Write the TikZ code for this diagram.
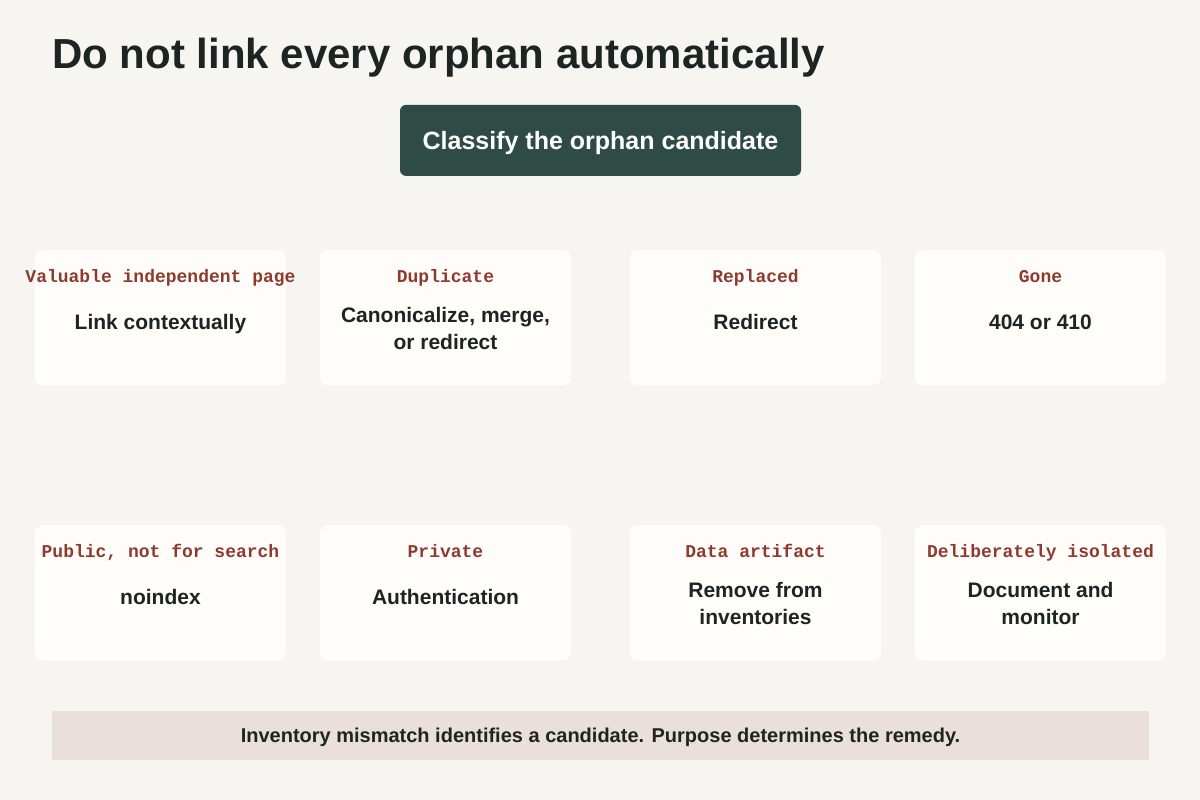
\documentclass[tikz,border=0pt]{standalone}
\usepackage{fontspec}
\setmainfont{Liberation Sans}
\newfontfamily\tagfont{Liberation Mono}
\usetikzlibrary{positioning}

\definecolor{bgcol}{HTML}{F6F5F2}
\definecolor{cardcol}{HTML}{FFFDF9}
\definecolor{headcol}{HTML}{2F4B45}
\definecolor{tagcol}{HTML}{8E3A2E}
\definecolor{inkcol}{HTML}{1C2522}
\definecolor{notecol}{HTML}{EADFDA}

\begin{document}
\begin{tikzpicture}[x=1pt, y=1pt,
  card/.style={fill=cardcol, rounded corners=8pt, minimum width=251pt, minimum height=135.5pt, inner sep=0pt, outer sep=0pt},
  tag/.style={anchor=base, inner sep=0pt, text=tagcol, font=\tagfont\bfseries\fontsize{18}{18}\selectfont},
  act/.style={inner sep=0pt, align=center, text=inkcol, font=\bfseries\fontsize{21}{27.3}\selectfont}]
  \fill [bgcol] (0,0) rectangle (1200,800);

  \node (title) [anchor=base west, inner sep=0pt, text=inkcol, font=\bfseries\fontsize{42}{50}\selectfont] at (52,731.7) {Do not link every orphan automatically};
  \node (classify) [fill=headcol, rounded corners=6pt, minimum width=401pt, minimum height=71pt, text=white, text height=17.9pt, text depth=0pt, font=\bfseries\fontsize{25}{30}\selectfont] at (600.5,659.6) {Classify the orphan candidate};

  \node (c1) [card] at (160.5,482.25) {};
  \node (c2) [card, right=34pt of c1] {};
  \node (c3) [card, right=59pt of c2] {};
  \node (c4) [card, right=34pt of c3] {};
  \node (c5) [card, below=139.5pt of c1] {};
  \node (c6) [card, below=139.5pt of c2] {};
  \node (c7) [card, below=139.5pt of c3] {};
  \node (c8) [card, below=139.5pt of c4] {};

  \node (iValuable) [tag] at ([yshift=-32.7pt]c1.north) {Valuable independent page};
  \node (iLink) [act, anchor=base] at ([yshift=-79.3pt]c1.north) {Link contextually};
  \node (iDuplicate) [tag] at ([yshift=-32.7pt]c2.north) {Duplicate};
  \node (iCanon) [act] at ([yshift=-78.7pt]c2.north) {Canonicalize, merge,\\or redirect};
  \node (iReplaced) [tag] at ([yshift=-32.7pt]c3.north) {Replaced};
  \node (iRedirect) [act, anchor=base] at ([yshift=-79.3pt]c3.north) {Redirect};
  \node (iGone) [tag] at ([yshift=-32.7pt]c4.north) {Gone};
  \node (i404) [act, anchor=base] at ([yshift=-79.3pt]c4.north) {404 or 410};

  \node (iPublic) [tag] at ([yshift=-32.7pt]c5.north) {Public, not for search};
  \node (iNoindex) [act, anchor=base] at ([yshift=-79.3pt]c5.north) {noindex};
  \node (iPrivate) [tag] at ([yshift=-32.7pt]c6.north) {Private};
  \node (iAuth) [act, anchor=base] at ([yshift=-79.3pt]c6.north) {Authentication};
  \node (iData) [tag] at ([yshift=-32.7pt]c7.north) {Data artifact};
  \node (iRemove) [act] at ([yshift=-78.7pt]c7.north) {Remove from\\inventories};
  \node (iIsolated) [tag] at ([yshift=-32.7pt]c8.north) {Deliberately isolated};
  \node (iMonitor) [act] at ([yshift=-78.7pt]c8.north) {Document and\\monitor};

  \node (note) [fill=notecol, minimum width=1097pt, minimum height=49pt, text=inkcol, text height=14.3pt, text depth=0pt, font=\bfseries\fontsize{20}{24}\selectfont] at (600.5,64.5) {Inventory mismatch identifies a candidate. Purpose determines the remedy.};
\end{tikzpicture}
\end{document}
